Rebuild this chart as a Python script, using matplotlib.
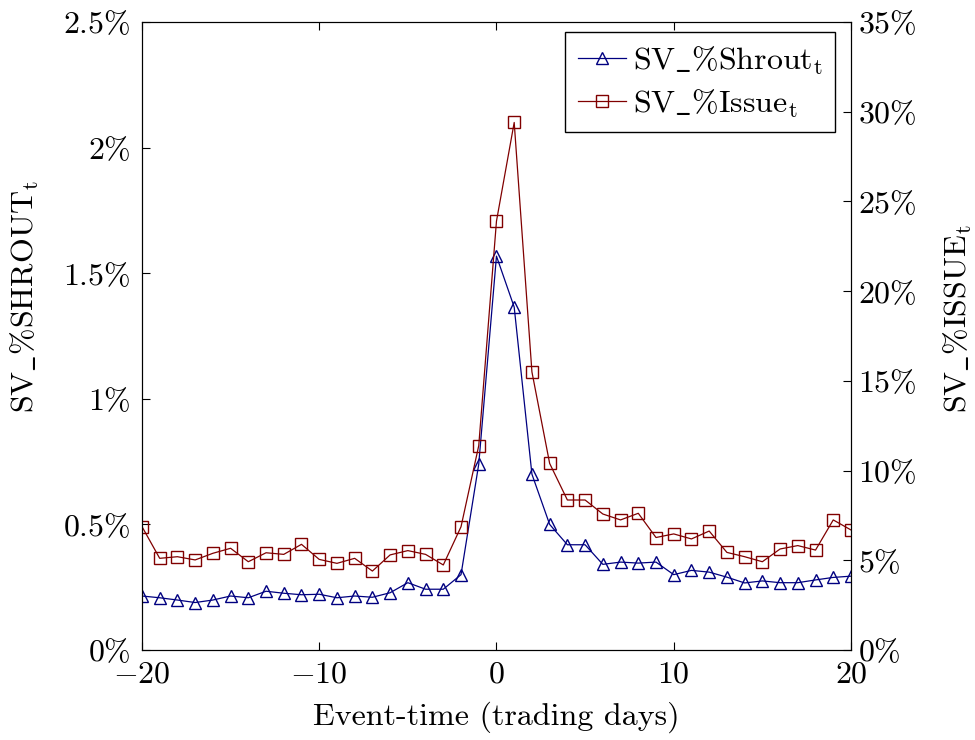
import numpy as np
import matplotlib.pyplot as plt
from matplotlib.ticker import FuncFormatter

plt.rcParams['font.family'] = 'serif'
plt.rcParams['font.serif'] = ['cmr10', 'DejaVu Serif']
plt.rcParams['mathtext.fontset'] = 'cm'
plt.rcParams['axes.unicode_minus'] = False

# event time
days = np.arange(-20, 21)

# SV_%Shrout (percent, left axis)
shrout = [0.215, 0.208, 0.199, 0.189, 0.199, 0.215, 0.208, 0.234, 0.226, 0.220, 0.222,
          0.208, 0.215, 0.210, 0.228, 0.268, 0.242, 0.242, 0.300, 0.740, 1.568, 1.365,
          0.700, 0.500, 0.419, 0.419, 0.341, 0.350, 0.346, 0.350, 0.300, 0.317, 0.310,
          0.290, 0.267, 0.275, 0.268, 0.268, 0.279, 0.289, 0.294]

# SV_%Issue (percent, right axis)
issue = [6.88, 5.11, 5.20, 5.02, 5.39, 5.67, 4.92, 5.42, 5.33, 5.89, 5.05,
         4.83, 5.11, 4.40, 5.30, 5.54, 5.33, 4.74, 6.87, 11.39, 23.9, 29.4,
         15.5, 10.4, 8.36, 8.36, 7.58, 7.25, 7.62, 6.27, 6.47, 6.19, 6.63,
         5.44, 5.20, 4.92, 5.63, 5.82, 5.57, 7.25, 6.69]

blue = (0.0, 0.0, 0.5)
red = (0.5, 0.0, 0.0)
fs = 23

fig = plt.figure(figsize=(9.75, 7.4), dpi=100)
ax = fig.add_axes([0.1456, 0.1216, 0.7272, 0.8487])
ax2 = ax.twinx()

l1, = ax.plot(days, shrout, '-', color=blue, lw=0.9, marker='^', ms=8.5,
              mfc='none', mec=blue, mew=1.0, label=r'$\mathrm{SV\_\%Shrout_t}$')
l2, = ax2.plot(days, issue, '-', color=red, lw=0.9, marker='s', ms=8.5,
               mfc='none', mec=red, mew=1.0, label=r'$\mathrm{SV\_\%Issue_t}$')

def fmt(v, pos):
    s = ('%g' % round(v, 2))
    return r'$%s\%%$' % s

ax.set_xlim(-20, 20)
ax.set_ylim(0, 2.5)
ax2.set_ylim(0, 35)
ax.set_xticks([-20, -10, 0, 10, 20])
ax.set_xticklabels([r'$-20$', r'$-10$', r'$0$', r'$10$', r'$20$'])
ax.set_yticks([0, 0.5, 1, 1.5, 2, 2.5])
ax2.set_yticks([0, 5, 10, 15, 20, 25, 30, 35])
ax.yaxis.set_major_formatter(FuncFormatter(fmt))
ax2.yaxis.set_major_formatter(FuncFormatter(fmt))

ax.tick_params(axis='x', direction='in', top=True, length=6, labelsize=fs, pad=8)
ax.tick_params(axis='y', direction='in', left=True, right=False, length=6, labelsize=fs, pad=8)
ax2.tick_params(axis='y', direction='in', length=6, labelsize=fs, pad=5)

ax.set_xlabel('Event-time (trading days)', fontsize=fs, labelpad=9)
ax.set_ylabel(r'$\mathrm{SV\_\%SHROUT_t}$', fontsize=fs, ha='left')
ax2.set_ylabel(r'$\mathrm{SV\_\%ISSUE_t}$', fontsize=fs, ha='left')
ax.yaxis.set_label_coords(-0.1425, 0.377)
ax2.yaxis.set_label_coords(1.128, 0.377)

leg = ax.legend(handles=[l1, l2], loc='upper right', fontsize=fs, frameon=True,
                fancybox=False, edgecolor='black', framealpha=1,
                borderpad=0.38, handlelength=1.5, handletextpad=0.22,
                labelspacing=0.32, borderaxespad=0,
                bbox_to_anchor=(0.977, 0.984))
leg.get_frame().set_linewidth(1.0)

fig.savefig('out.png', dpi=100)
